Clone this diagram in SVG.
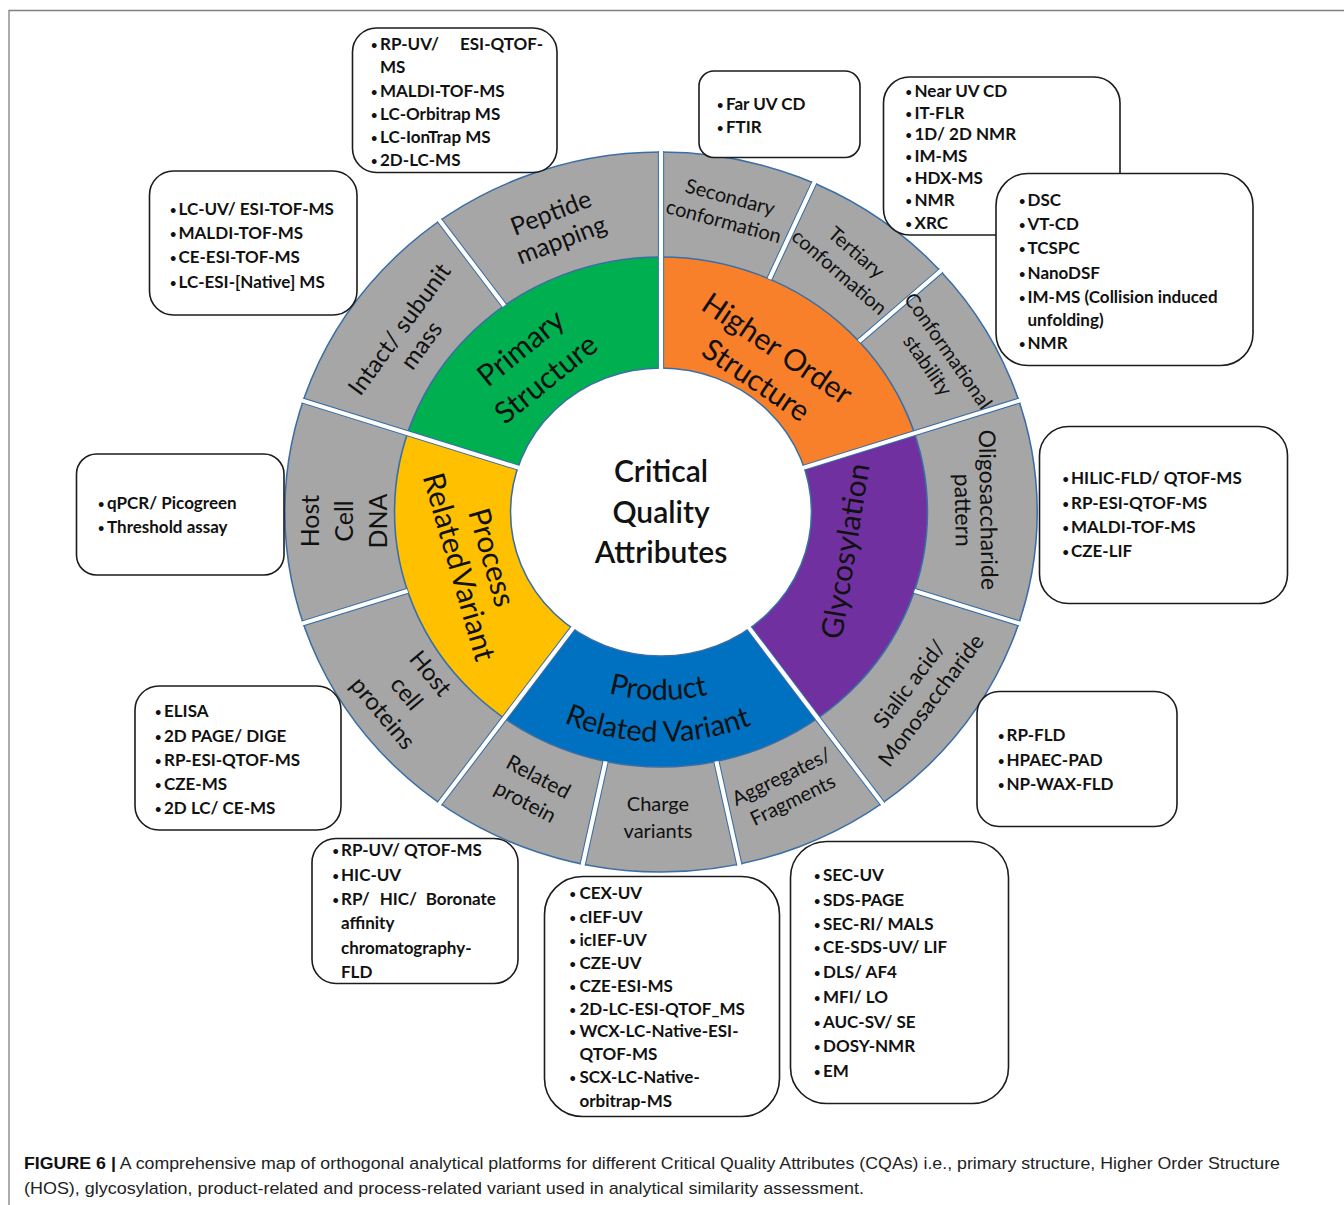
<svg xmlns="http://www.w3.org/2000/svg" width="1344" height="1205" viewBox="0 0 1344 1205">
<style>
.box{fill:#fff;stroke:#1c1c1c;stroke-width:1.6}
.bt{font-family:Lato,"Open Sans",sans-serif;font-weight:700;font-size:17px;fill:#111}
.bu{font-size:11px}
.gl{font-family:Lato,"Open Sans",sans-serif;font-size:20px;fill:#111;text-anchor:middle}
.cl{font-family:Lato,"Open Sans",sans-serif;font-size:30px;fill:#111;text-anchor:middle}
.ct{font-family:Lato,"Open Sans",sans-serif;font-size:30px;font-weight:600;fill:#111;text-anchor:middle}
.sb{stroke:#3A6EA5;stroke-width:6;fill:none}
.sw{stroke:#fff;stroke-width:4;fill:none}
.cap{font-family:"Liberation Sans Narrow","Liberation Sans",Arial,sans-serif;font-size:17px;fill:#222}
</style>
<rect width="1344" height="1205" fill="#fff"/>
<g id="frame" stroke="#808080" stroke-width="1.3" fill="none">
<path d="M9,1205 V10.5 H1344"/>
</g>
<g id="wheel" transform="translate(661,512) scale(1.045,1)">
<circle r="360" fill="#A6A6A6" stroke="#3A6EA5" stroke-width="1.5"/>
<path id="seg-primary" fill="#00B050" d="M-136.95,-44.5 L-242.52,-78.8 A255,255 0 0 1 0,-255 L0,-144 A144,144 0 0 0 -136.95,-44.5 Z"/>
<path id="seg-hos" fill="#F9802A" d="M0,-144 L0,-255 A255,255 0 0 1 242.52,-78.8 L136.95,-44.5 A144,144 0 0 0 0,-144 Z"/>
<path id="seg-glyco" fill="#7030A0" d="M136.95,-44.5 L242.52,-78.8 A255,255 0 0 1 149.89,206.3 L84.64,116.5 A144,144 0 0 0 136.95,-44.5 Z"/>
<path id="seg-product" fill="#0070C0" d="M84.64,116.5 L149.89,206.3 A255,255 0 0 1 -149.89,206.3 L-84.64,116.5 A144,144 0 0 0 84.64,116.5 Z"/>
<path id="seg-process" fill="#FFC000" d="M-84.64,116.5 L-149.89,206.3 A255,255 0 0 1 -242.52,-78.8 L-136.95,-44.5 A144,144 0 0 0 -84.64,116.5 Z"/>
<circle r="255" fill="none" stroke="#3A6EA5" stroke-width="1.5"/>
<circle r="144" fill="#fff" stroke="#3A6EA5" stroke-width="1.5"/>
<g id="separators">
<path class="sb" d="M0,-144 L0,-361 M136.95,-44.5 L343.33,-111.56 M84.64,116.5 L212.19,292.06 M-84.64,116.5 L-212.19,292.06 M-136.95,-44.5 L-343.33,-111.56 M103.72,-232.96 L146.83,-329.79 M189.5,-170.63 L268.27,-241.56 M242.52,78.8 L343.33,111.56 M53.02,249.43 L75.06,353.11 M-53.02,249.43 L-75.06,353.11 M-242.52,78.8 L-343.33,111.56 M-149.89,-206.3 L-212.19,-292.06"/>
<path class="sw" d="M0,-142 L0,-363 M135.05,-43.88 L345.23,-112.18 M83.47,114.88 L213.37,293.68 M-83.47,114.88 L-213.37,293.68 M-135.05,-43.88 L-345.23,-112.18 M103.72,-232.96 L147.64,-331.62 M189.5,-170.63 L269.75,-242.89 M242.52,78.8 L345.23,112.18 M53.02,249.43 L75.47,355.07 M-53.02,249.43 L-75.47,355.07 M-242.52,78.8 L-345.23,112.18 M-149.89,-206.3 L-213.37,-293.68"/>
</g>
</g>
<g id="center-label">
<text class="ct" x="661" y="482">Critical</text>
<text class="ct" x="661" y="523">Quality</text>
<text class="ct" x="661" y="563">Attributes</text>
</g>
<g id="label-primary" transform="translate(533,363) rotate(-39)"><text class="cl" y="-9.2">Primary</text><text class="cl" y="30.8">Structure</text></g>
<g id="label-hos" transform="translate(767,364) rotate(34)"><text class="cl" y="-8.2">Higher Order</text><text class="cl" y="29.8">Structure</text></g>
<g id="label-glyco" transform="translate(845,551) rotate(-81)"><text class="cl" y="10.8">Glycosylation</text></g>
<g id="label-process" transform="translate(476,562) rotate(74)"><text class="cl" y="-6.2">Process</text><text class="cl" y="27.8" word-spacing="-5">Related Variant</text></g>
<g id="label-product">
<path id="arcP" d="M490.87,606 A196.46,188 0 0 0 831.13,606" fill="none"/>
<path id="arcR" d="M452.86,627 A240.35,230 0 0 0 869.14,627" fill="none"/>
<text class="cl" style="font-size:29px"><textPath href="#arcP" startOffset="49.3%">Product</textPath></text>
<text class="cl" style="font-size:29px"><textPath href="#arcR" startOffset="49.3%">Related Variant</textPath></text>
</g>
<g id="label-secondary" transform="translate(727,209) rotate(15)"><text class="gl" y="-5.3">Secondary</text><text class="gl" y="19.7">conformation</text></g>
<g id="label-tertiary" transform="translate(848,262) rotate(41)"><text class="gl" y="-5.8">Tertiary</text><text class="gl" y="20.2">conformation</text></g>
<g id="label-stability" transform="translate(938,358) rotate(55)"><text class="gl" y="-5.5">Conformational</text><text class="gl" y="19.5">stability</text></g>
<g id="label-oligo" transform="translate(976,510) rotate(89)"><text class="gl" style="font-size:23px" y="-4.2">Oligosaccharide</text><text class="gl" style="font-size:23px" y="20.8">pattern</text></g>
<g id="label-sialic" transform="translate(920,692) rotate(-53)"><text class="gl" style="font-size:22px" y="-5.6">Sialic acid/</text><text class="gl" style="font-size:22px" y="21.4">Monosaccharide</text></g>
<g id="label-aggregates" transform="translate(787,788) rotate(-26)"><text class="gl" y="-5.8">Aggregates/</text><text class="gl" y="20.2">Fragments</text></g>
<g id="label-charge" transform="translate(658,817)"><text class="gl" y="-6.3">Charge</text><text class="gl" y="20.7">variants</text></g>
<g id="label-related" transform="translate(532,789) rotate(28)"><text class="gl" style="font-size:21px" y="-6.4">Related</text><text class="gl" style="font-size:21px" y="21.6">protein</text></g>
<g id="label-hcp" transform="translate(407,693) rotate(50)"><text class="gl" style="font-size:24px" y="-22.4">Host</text><text class="gl" style="font-size:24px" y="8.6">cell</text><text class="gl" style="font-size:24px" y="39.6">proteins</text></g>
<g id="label-hcdna" transform="translate(344,521) rotate(-90)"><text class="gl" style="font-size:25px" y="-25">Host</text><text class="gl" style="font-size:25px" y="9">Cell</text><text class="gl" style="font-size:25px" y="43">DNA</text></g>
<g id="label-intact" transform="translate(410,337) rotate(-54)"><text class="gl" style="font-size:24px" y="-4.9">Intact/ subunit</text><text class="gl" style="font-size:24px" y="22.1">mass</text></g>
<g id="label-peptide" transform="translate(556,226) rotate(-21)"><text class="gl" style="font-size:25px" y="-5.5">Peptide</text><text class="gl" style="font-size:25px" y="23.5">mapping</text></g>
<g id="box-peptide">
<rect class="box" x="352.5" y="28" width="204.5" height="144.5" rx="24"/>
<text class="bt" y="49.5"><tspan class="bu" x="371" dy="-1">•</tspan><tspan x="380" dy="1">RP-UV/</tspan><tspan x="460">ESI-QTOF-</tspan></text>
<text class="bt" x="380" y="73.3">MS</text>
<text class="bt" y="97.3"><tspan class="bu" x="371" dy="-1">•</tspan><tspan x="380" dy="1">MALDI-TOF-MS</tspan></text>
<text class="bt" y="120"><tspan class="bu" x="371" dy="-1">•</tspan><tspan x="380" dy="1">LC-Orbitrap MS</tspan></text>
<text class="bt" y="142.7"><tspan class="bu" x="371" dy="-1">•</tspan><tspan x="380" dy="1">LC-IonTrap MS</tspan></text>
<text class="bt" y="165.7"><tspan class="bu" x="371" dy="-1">•</tspan><tspan x="380" dy="1">2D-LC-MS</tspan></text>
</g>
<g id="box-intact">
<rect class="box" x="149.5" y="171" width="207.5" height="144" rx="24"/>
<text class="bt" y="215"><tspan class="bu" x="170" dy="-1">•</tspan><tspan x="178.5" dy="1">LC-UV/ ESI-TOF-MS</tspan></text>
<text class="bt" y="239.3"><tspan class="bu" x="170" dy="-1">•</tspan><tspan x="178.5" dy="1">MALDI-TOF-MS</tspan></text>
<text class="bt" y="263.3"><tspan class="bu" x="170" dy="-1">•</tspan><tspan x="178.5" dy="1">CE-ESI-TOF-MS</tspan></text>
<text class="bt" y="287.5"><tspan class="bu" x="170" dy="-1">•</tspan><tspan x="178.5" dy="1">LC-ESI-[Native] MS</tspan></text>
</g>
<g id="box-secondary">
<rect class="box" x="699" y="71" width="161" height="86.5" rx="15"/>
<text class="bt" y="110"><tspan class="bu" x="717" dy="-1">•</tspan><tspan x="726" dy="1">Far UV CD</tspan></text>
<text class="bt" y="133.3"><tspan class="bu" x="717" dy="-1">•</tspan><tspan x="726" dy="1">FTIR</tspan></text>
</g>
<g id="box-tertiary">
<rect class="box" x="883.5" y="77" width="236.5" height="158" rx="26"/>
<text class="bt" y="96.7"><tspan class="bu" x="905.5" dy="-1">•</tspan><tspan x="914.5" dy="1">Near UV CD</tspan></text>
<text class="bt" y="118.5"><tspan class="bu" x="905.5" dy="-1">•</tspan><tspan x="914.5" dy="1">IT-FLR</tspan></text>
<text class="bt" y="140.3"><tspan class="bu" x="905.5" dy="-1">•</tspan><tspan x="914.5" dy="1">1D/ 2D NMR</tspan></text>
<text class="bt" y="162.2"><tspan class="bu" x="905.5" dy="-1">•</tspan><tspan x="914.5" dy="1">IM-MS</tspan></text>
<text class="bt" y="184.2"><tspan class="bu" x="905.5" dy="-1">•</tspan><tspan x="914.5" dy="1">HDX-MS</tspan></text>
<text class="bt" y="206.2"><tspan class="bu" x="905.5" dy="-1">•</tspan><tspan x="914.5" dy="1">NMR</tspan></text>
<text class="bt" y="228.5"><tspan class="bu" x="905.5" dy="-1">•</tspan><tspan x="914.5" dy="1">XRC</tspan></text>
</g>
<g id="box-stability">
<rect class="box" x="996" y="173.5" width="257" height="192" rx="32"/>
<text class="bt" y="205.7"><tspan class="bu" x="1019" dy="-1">•</tspan><tspan x="1027.5" dy="1">DSC</tspan></text>
<text class="bt" y="230"><tspan class="bu" x="1019" dy="-1">•</tspan><tspan x="1027.5" dy="1">VT-CD</tspan></text>
<text class="bt" y="254.3"><tspan class="bu" x="1019" dy="-1">•</tspan><tspan x="1027.5" dy="1">TCSPC</tspan></text>
<text class="bt" y="279"><tspan class="bu" x="1019" dy="-1">•</tspan><tspan x="1027.5" dy="1">NanoDSF</tspan></text>
<text class="bt" y="303.3"><tspan class="bu" x="1019" dy="-1">•</tspan><tspan x="1027.5" dy="1">IM-MS (Collision induced</tspan></text>
<text class="bt" x="1027.5" y="326">unfolding)</text>
<text class="bt" y="349"><tspan class="bu" x="1019" dy="-1">•</tspan><tspan x="1027.5" dy="1">NMR</tspan></text>
</g>
<g id="box-hcdna">
<rect class="box" x="76.5" y="454" width="207.5" height="121" rx="20"/>
<text class="bt" y="509"><tspan class="bu" x="98" dy="-1">•</tspan><tspan x="107" dy="1">qPCR/ Picogreen</tspan></text>
<text class="bt" y="532.7"><tspan class="bu" x="98" dy="-1">•</tspan><tspan x="107" dy="1">Threshold assay</tspan></text>
</g>
<g id="box-hcp">
<rect class="box" x="135" y="686" width="206" height="144" rx="24"/>
<text class="bt" y="716.7"><tspan class="bu" x="155" dy="-1">•</tspan><tspan x="164" dy="1">ELISA</tspan></text>
<text class="bt" y="741.5"><tspan class="bu" x="155" dy="-1">•</tspan><tspan x="164" dy="1">2D PAGE/ DIGE</tspan></text>
<text class="bt" y="765.7"><tspan class="bu" x="155" dy="-1">•</tspan><tspan x="164" dy="1">RP-ESI-QTOF-MS</tspan></text>
<text class="bt" y="790"><tspan class="bu" x="155" dy="-1">•</tspan><tspan x="164" dy="1">CZE-MS</tspan></text>
<text class="bt" y="814.3"><tspan class="bu" x="155" dy="-1">•</tspan><tspan x="164" dy="1">2D LC/ CE-MS</tspan></text>
</g>
<g id="box-oligo">
<rect class="box" x="1039.5" y="426.5" width="248" height="177" rx="29"/>
<text class="bt" y="484.3"><tspan class="bu" x="1062.5" dy="-1">•</tspan><tspan x="1071" dy="1">HILIC-FLD/ QTOF-MS</tspan></text>
<text class="bt" y="509"><tspan class="bu" x="1062.5" dy="-1">•</tspan><tspan x="1071" dy="1">RP-ESI-QTOF-MS</tspan></text>
<text class="bt" y="533.3"><tspan class="bu" x="1062.5" dy="-1">•</tspan><tspan x="1071" dy="1">MALDI-TOF-MS</tspan></text>
<text class="bt" y="557.3"><tspan class="bu" x="1062.5" dy="-1">•</tspan><tspan x="1071" dy="1">CZE-LIF</tspan></text>
</g>
<g id="box-sialic">
<rect class="box" x="977" y="691.5" width="200" height="135" rx="22"/>
<text class="bt" y="740.7"><tspan class="bu" x="998" dy="-1">•</tspan><tspan x="1006.5" dy="1">RP-FLD</tspan></text>
<text class="bt" y="765.7"><tspan class="bu" x="998" dy="-1">•</tspan><tspan x="1006.5" dy="1">HPAEC-PAD</tspan></text>
<text class="bt" y="790"><tspan class="bu" x="998" dy="-1">•</tspan><tspan x="1006.5" dy="1">NP-WAX-FLD</tspan></text>
</g>
<g id="box-related">
<rect class="box" x="312" y="838.5" width="206" height="145" rx="24"/>
<text class="bt" y="856"><tspan class="bu" x="332.5" dy="-1">•</tspan><tspan x="341" dy="1">RP-UV/ QTOF-MS</tspan></text>
<text class="bt" y="880.7"><tspan class="bu" x="332.5" dy="-1">•</tspan><tspan x="341" dy="1">HIC-UV</tspan></text>
<text class="bt" y="905.3"><tspan class="bu" x="332.5" dy="-1">•</tspan><tspan x="341" dy="1">RP/</tspan><tspan x="379.7">HIC/</tspan><tspan x="425.7">Boronate</tspan></text>
<text class="bt" x="341" y="928.7">affinity</text>
<text class="bt" x="341" y="954">chromatography-</text>
<text class="bt" x="341" y="978.3">FLD</text>
</g>
<g id="box-charge">
<rect class="box" x="544.5" y="876.5" width="235" height="240" rx="38"/>
<text class="bt" y="899.3"><tspan class="bu" x="569.5" dy="-1">•</tspan><tspan x="579.4" dy="1">CEX-UV</tspan></text>
<text class="bt" y="922.7"><tspan class="bu" x="569.5" dy="-1">•</tspan><tspan x="579.4" dy="1">cIEF-UV</tspan></text>
<text class="bt" y="945.7"><tspan class="bu" x="569.5" dy="-1">•</tspan><tspan x="579.4" dy="1">icIEF-UV</tspan></text>
<text class="bt" y="968.7"><tspan class="bu" x="569.5" dy="-1">•</tspan><tspan x="579.4" dy="1">CZE-UV</tspan></text>
<text class="bt" y="991.7"><tspan class="bu" x="569.5" dy="-1">•</tspan><tspan x="579.4" dy="1">CZE-ESI-MS</tspan></text>
<text class="bt" y="1015"><tspan class="bu" x="569.5" dy="-1">•</tspan><tspan x="579.4" dy="1">2D-LC-ESI-QTOF_MS</tspan></text>
<text class="bt" y="1037.3"><tspan class="bu" x="569.5" dy="-1">•</tspan><tspan x="579.4" dy="1">WCX-LC-Native-ESI-</tspan></text>
<text class="bt" x="579.4" y="1060">QTOF-MS</text>
<text class="bt" y="1083.3"><tspan class="bu" x="569.5" dy="-1">•</tspan><tspan x="579.4" dy="1">SCX-LC-Native-</tspan></text>
<text class="bt" x="579.4" y="1106.7">orbitrap-MS</text>
</g>
<g id="box-aggregates">
<rect class="box" x="790.5" y="841.5" width="218" height="262" rx="36"/>
<text class="bt" y="880.7"><tspan class="bu" x="814" dy="-1">•</tspan><tspan x="823" dy="1">SEC-UV</tspan></text>
<text class="bt" y="905.7"><tspan class="bu" x="814" dy="-1">•</tspan><tspan x="823" dy="1">SDS-PAGE</tspan></text>
<text class="bt" y="930"><tspan class="bu" x="814" dy="-1">•</tspan><tspan x="823" dy="1">SEC-RI/ MALS</tspan></text>
<text class="bt" y="953.3"><tspan class="bu" x="814" dy="-1">•</tspan><tspan x="823" dy="1">CE-SDS-UV/ LIF</tspan></text>
<text class="bt" y="978.3"><tspan class="bu" x="814" dy="-1">•</tspan><tspan x="823" dy="1">DLS/ AF4</tspan></text>
<text class="bt" y="1003.3"><tspan class="bu" x="814" dy="-1">•</tspan><tspan x="823" dy="1">MFI/ LO</tspan></text>
<text class="bt" y="1027.7"><tspan class="bu" x="814" dy="-1">•</tspan><tspan x="823" dy="1">AUC-SV/ SE</tspan></text>
<text class="bt" y="1052.3"><tspan class="bu" x="814" dy="-1">•</tspan><tspan x="823" dy="1">DOSY-NMR</tspan></text>
<text class="bt" y="1076.7"><tspan class="bu" x="814" dy="-1">•</tspan><tspan x="823" dy="1">EM</tspan></text>
</g>
<g id="caption">
<text class="cap" x="24" y="1169" textLength="1256" lengthAdjust="spacingAndGlyphs"><tspan font-weight="700" fill="#111">FIGURE 6 |</tspan> A comprehensive map of orthogonal analytical platforms for different Critical Quality Attributes (CQAs) i.e., primary structure, Higher Order Structure</text>
<text class="cap" x="24" y="1194" textLength="840" lengthAdjust="spacingAndGlyphs">(HOS), glycosylation, product-related and process-related variant used in analytical similarity assessment.</text>
</g>
</svg>
